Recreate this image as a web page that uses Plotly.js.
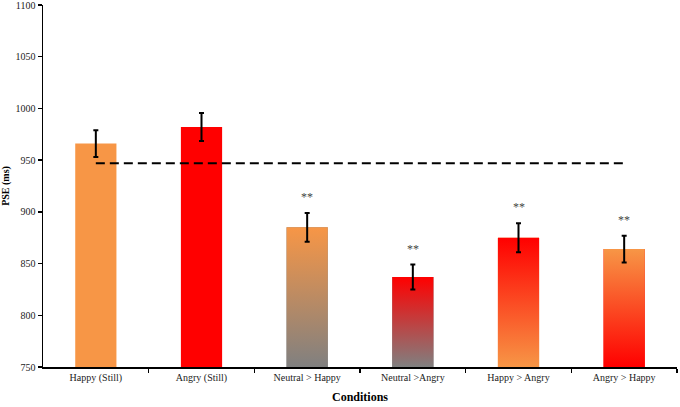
<!DOCTYPE html>
<html>
<head>
<meta charset="utf-8">
<script src="https://cdn.plot.ly/plotly-3.0.1.min.js"></script>
<style>
  html, body { margin: 0; padding: 0; background: white; }
  #chart { width: 680px; height: 407px; }
</style>
</head>
<body>
<div id="chart"></div>
<script>
// PSE per condition, with SEM bars, a dashed reference line and ** marks.

const categories = ['Happy (Still)', 'Angry (Still)', 'Neutral > Happy',
  'Neutral >Angry', 'Happy > Angry', 'Angry > Happy'];
const pse = [966, 982, 885, 837, 875, 864];
const sem = [13, 13.5, 14, 12, 14, 13];
const sig = ['', '', '**', '**', '**', '**'];
const reference = 947;

const ORANGE = '#F79646';
const RED = '#FF0000';
const GREY = '#808080';
const topColors = [ORANGE, RED, ORANGE, RED, RED, ORANGE];
const bottomColors = [ORANGE, RED, GREY, GREY, ORANGE, RED];

const yMin = 750;
const yMax = 1100;
const barWidth = 0.39;
const idx = categories.map((c, i) => i);
const serif = 'Liberation Serif, Times New Roman, serif';

const traces = [];

// plain bars underneath
traces.push({
  type: 'bar',
  x: idx,
  y: pse.map(v => v - yMin),
  base: yMin,
  width: barWidth,
  marker: { color: bottomColors, line: { width: 0 } },
  hoverinfo: 'skip',
  showlegend: false
});

// gradient bodies for the mixed-colour bars
idx.forEach(i => {
  if (topColors[i] === bottomColors[i]) return;
  const l = i - barWidth / 2;
  const r = i + barWidth / 2;
  traces.push({
    type: 'scatter',
    x: [l, l, r, r, l],
    y: [yMin, pse[i], pse[i], yMin, yMin],
    mode: 'lines',
    line: { width: 0 },
    fill: 'toself',
    fillgradient: {
      type: 'vertical',
      colorscale: [[0, bottomColors[i]], [1, topColors[i]]]
    },
    hoverinfo: 'skip',
    showlegend: false
  });
});

// dashed reference line
traces.push({
  type: 'scatter',
  x: [idx[0], idx[idx.length - 1]],
  y: [reference, reference],
  mode: 'lines',
  line: { color: 'black', width: 2, dash: '9px,5px' },
  hoverinfo: 'skip',
  showlegend: false
});

// error bars on top
traces.push({
  type: 'scatter',
  x: idx,
  y: pse,
  mode: 'markers',
  marker: { size: 1, opacity: 0 },
  error_y: { type: 'data', array: sem, visible: true, color: 'black', thickness: 2, width: 2.5 },
  hoverinfo: 'skip',
  showlegend: false
});

const annotations = idx.filter(i => sig[i]).map(i => ({
  x: i,
  y: pse[i] + sem[i],
  text: sig[i],
  showarrow: false,
  yanchor: 'bottom',
  yshift: 7,
  font: { family: serif, size: 12, color: '#444444' }
}));

const layout = {
  width: 680,
  height: 407,
  margin: { l: 43, r: 3, t: 5, b: 40 },
  paper_bgcolor: 'white',
  plot_bgcolor: 'white',
  font: { family: serif, size: 10, color: '#222' },
  showlegend: false,
  xaxis: {
    range: [-0.5, 5.5],
    tickmode: 'array',
    tickvals: idx,
    ticktext: categories,
    ticks: '',
    showgrid: false,
    zeroline: false,
    showline: true,
    linecolor: 'black',
    linewidth: 1.5,
    tickfont: { family: serif, size: 10, color: '#222' },
    minor: { ticks: 'outside', tickvals: [0.5, 1.5, 2.5, 3.5, 4.5, 5.5], ticklen: 4, tickwidth: 1.5, tickcolor: 'black', showgrid: false },
    title: { text: '<b>Conditions</b>', font: { family: serif, size: 12, color: 'black' }, standoff: 10 },
    automargin: false
  },
  yaxis: {
    range: [yMin, yMax],
    tickvals: [750, 800, 850, 900, 950, 1000, 1050, 1100],
    ticks: 'outside',
    ticklen: 4,
    tickwidth: 1.5,
    tickcolor: 'black',
    showgrid: false,
    zeroline: false,
    showline: true,
    linecolor: 'black',
    linewidth: 1.5,
    ticklabeloverflow: 'allow',
    tickfont: { family: serif, size: 10, color: '#222' },
    title: { text: '<b>PSE (ms)</b>', font: { family: serif, size: 10, color: 'black' }, standoff: 4 },
    automargin: false
  },
  annotations: annotations,
  bargap: 0.6
};

Plotly.newPlot('chart', traces, layout, { displayModeBar: false, staticPlot: true });
</script>
</body>
</html>
